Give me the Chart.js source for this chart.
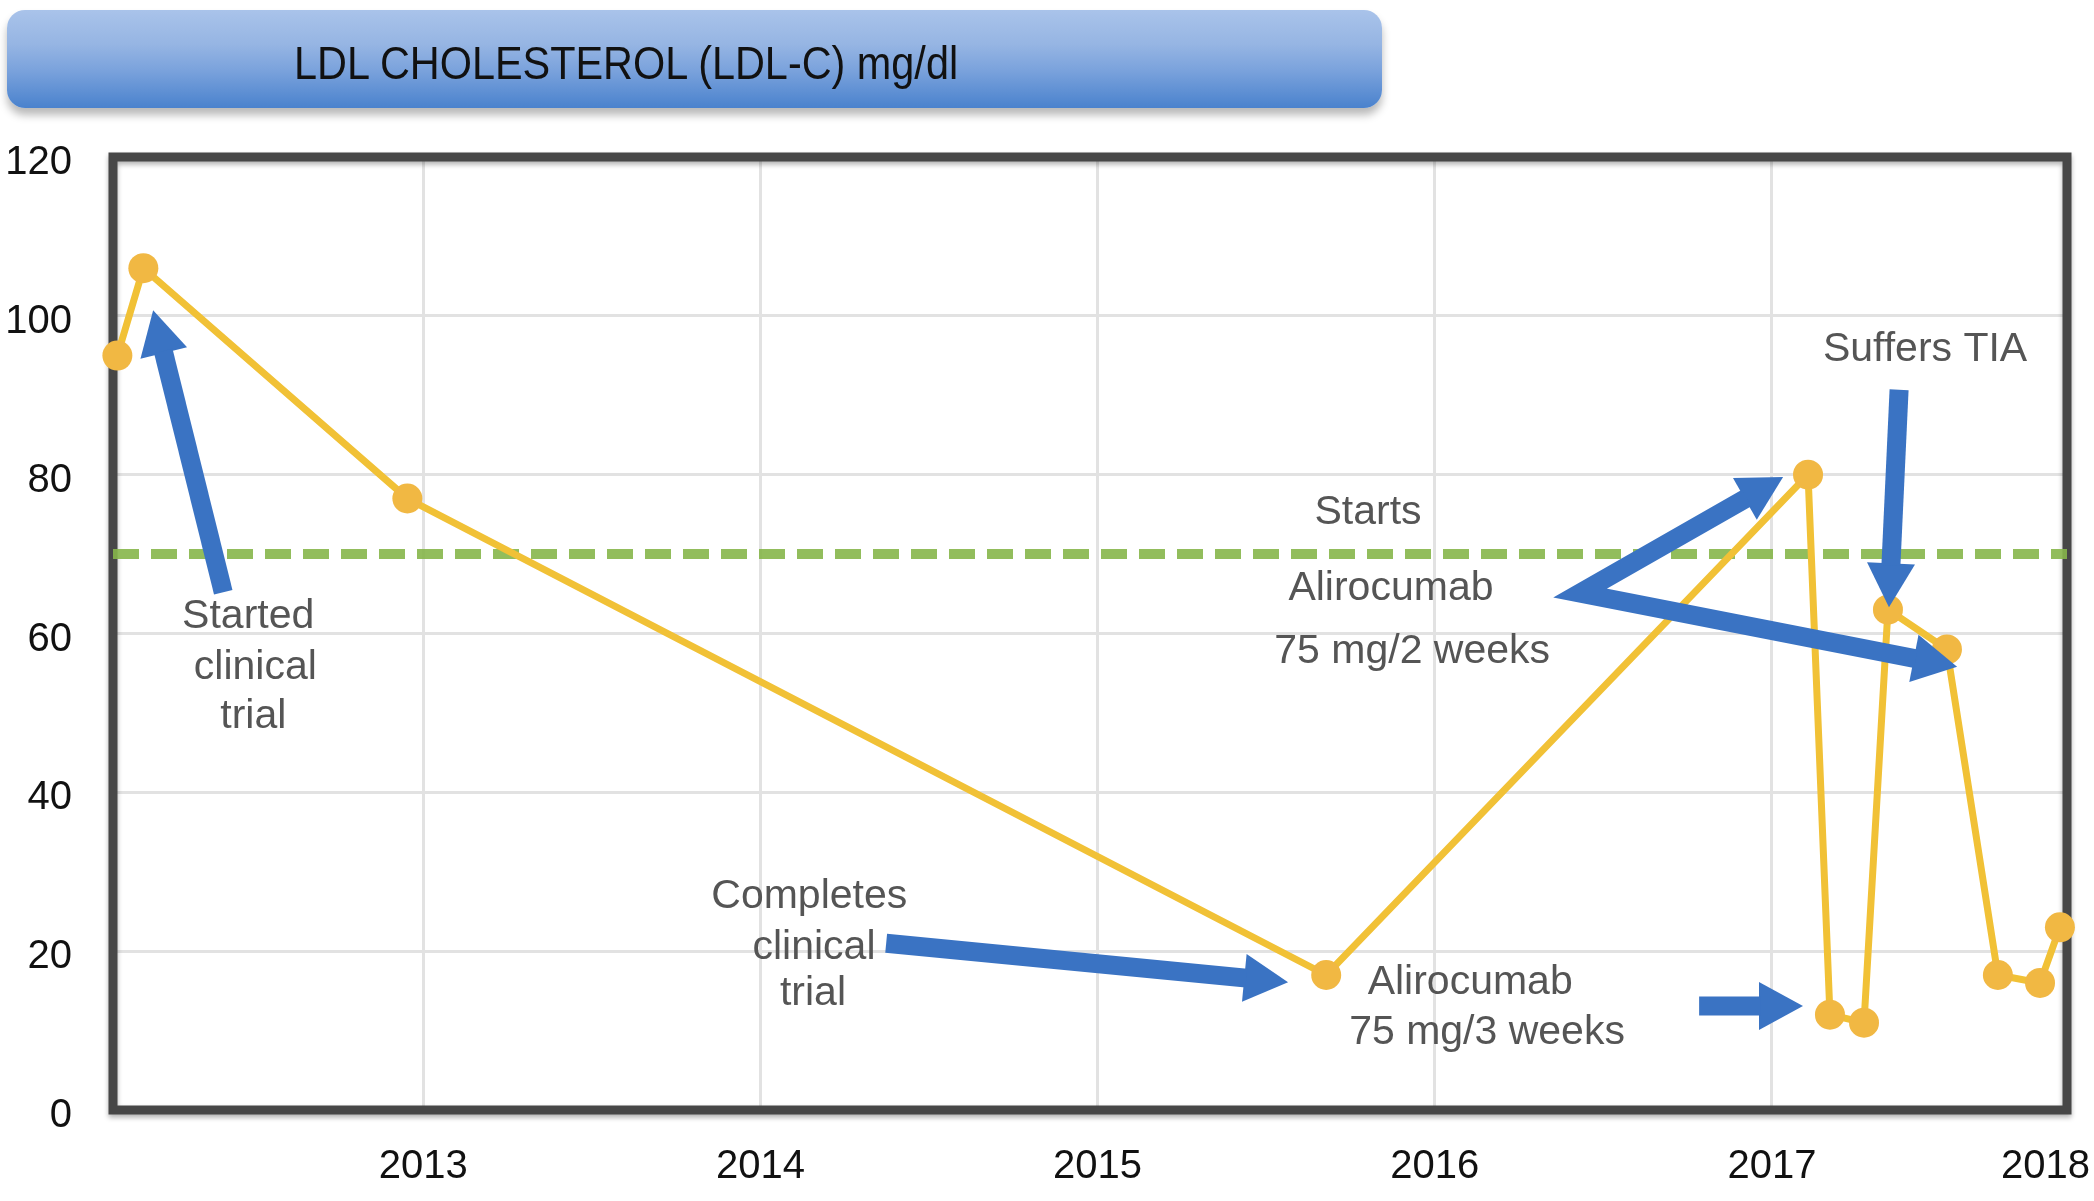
<!DOCTYPE html>
<html>
<head>
<meta charset="utf-8">
<script src="https://cdn.jsdelivr.net/npm/chart.js@4.4.1/dist/chart.umd.min.js"></script>
<style>
  html, body { margin: 0; padding: 0; background: #fff; }
  #wrap { position: relative; width: 2094px; height: 1201px; overflow: hidden; }
  #myChart { position: absolute; left: 0; top: 0; }
  #titleBar {
    position: absolute; left: 7px; top: 10px; width: 1375px; height: 98px;
    border-radius: 18px;
    background: linear-gradient(to bottom, #a9c3ea 0%, #96b5e3 35%, #7aa2dc 62%, #4a82cd 100%);
    box-shadow: 0 7px 8px rgba(0, 0, 0, 0.28);
    z-index: 2;
  }
  #titleBar span {
    position: absolute; left: 287px; top: 30px;
    font: 46px "Liberation Sans", Arial, sans-serif; line-height: 46px;
    color: #111; white-space: nowrap;
    transform: scaleX(0.9); transform-origin: left top;
  }
</style>
</head>
<body>
<div id="wrap">
  <div id="titleBar"><span>LDL CHOLESTEROL (LDL-C) mg/dl</span></div>
  <canvas id="myChart" width="2094" height="1201"></canvas>
</div>
<script>
// measurement dates (decimal year, read against the year gridlines)
const years = [2012.093, 2012.170, 2012.953, 2015.678, 2017.107, 2017.172,
               2017.273, 2017.344, 2017.519, 2017.670, 2017.795, 2017.854];
// LDL-C, mg/dl
const ldl = [95, 106, 77, 17, 80, 12, 11, 63, 58, 17, 16, 23];
const targetLdl = 70;

const xTickYears = [2013, 2014, 2015, 2016, 2017, 2018];
const xTickLabels = ["2013", "2014", "2015", "2016", "2017", "2018"];
const xMin = 2012.08;
const xMax = 2017.875;
const yMin = 0;
const yMax = 120;
const yStep = 20;

// annotation text: [text, year, mg/dl]
const notes = [
  ["Started", 2012.481, 62.1],
  ["clinical", 2012.502, 55.65],
  ["trial", 2012.496, 49.5],
  ["Completes", 2014.145, 26.8],
  ["clinical", 2014.159, 20.5],
  ["trial", 2014.156, 14.6],
  ["Starts", 2015.802, 75.2],
  ["Alirocumab", 2015.870, 65.7],
  ["75 mg/2 weeks", 2015.933, 57.7],
  ["Alirocumab", 2016.105, 16.0],
  ["75 mg/3 weeks", 2016.155, 9.7],
  ["Suffers TIA", 2017.454, 95.8],
];

// arrows: points in [year, mg/dl], head at the end (or both ends)
const arrows = [
  { pts: [[2012.407, 65.2], [2012.199, 100.7]] },
  { pts: [[2014.373, 21.0], [2015.565, 16.1]] },
  { pts: [[2017.033, 79.7], [2016.431, 65.1], [2017.549, 55.8]], both: true },
  { pts: [[2016.784, 13.1], [2017.092, 13.1]] },
  { pts: [[2017.377, 90.7], [2017.347, 63.3]] },
];

const FONT = "'Liberation Sans', Arial, sans-serif";
const ARROW_BLUE = "#3a73c3";

function drawHead(ctx, from, to) {
  const ang = Math.atan2(to[1] - from[1], to[0] - from[0]);
  const len = 44, half = 24;
  const bx = to[0] - len * Math.cos(ang);
  const by = to[1] - len * Math.sin(ang);
  ctx.beginPath();
  ctx.moveTo(to[0], to[1]);
  ctx.lineTo(bx - half * Math.sin(ang), by + half * Math.cos(ang));
  ctx.lineTo(bx + half * Math.sin(ang), by - half * Math.cos(ang));
  ctx.closePath();
  ctx.fill();
  return [bx + 2 * Math.cos(ang), by + 2 * Math.sin(ang)];
}

const decorations = {
  id: "decorations",
  beforeDatasetsDraw(chart) {
    const { ctx, chartArea: a } = chart;
    ctx.save();
    ctx.shadowColor = "rgba(0,0,0,0.3)";
    ctx.shadowBlur = 5;
    ctx.shadowOffsetY = 3;
    ctx.strokeStyle = "#474747";
    ctx.lineWidth = 9;
    ctx.strokeRect(a.left, a.top, a.right - a.left, a.bottom - a.top);
    ctx.restore();
  },
  afterDatasetsDraw(chart) {
    const { ctx } = chart;
    const xs = chart.scales.x, ys = chart.scales.y;
    const px = (p) => [xs.getPixelForValue(p[0]), ys.getPixelForValue(p[1])];

    ctx.save();
    ctx.fillStyle = ARROW_BLUE;
    ctx.strokeStyle = ARROW_BLUE;
    ctx.lineWidth = 19;
    ctx.lineJoin = "miter";
    ctx.lineCap = "butt";
    arrows.forEach((arw) => {
      const p = arw.pts.map(px);
      const n = p.length;
      const end = drawHead(ctx, p[n - 2], p[n - 1]);
      let start = p[0];
      if (arw.both) start = drawHead(ctx, p[1], p[0]);
      ctx.beginPath();
      ctx.moveTo(start[0], start[1]);
      for (let i = 1; i < n - 1; i++) ctx.lineTo(p[i][0], p[i][1]);
      ctx.lineTo(end[0], end[1]);
      ctx.stroke();
    });

    ctx.fillStyle = "#555";
    ctx.font = "41px " + FONT;
    ctx.textAlign = "center";
    ctx.textBaseline = "middle";
    notes.forEach(([t, x, y]) => {
      const [cx, cy] = px([x, y]);
      ctx.fillText(t, cx, cy);
    });
    ctx.restore();
  },
  afterDraw(chart) {
    const { ctx, chartArea: a, width } = chart;
    const xs = chart.scales.x;
    ctx.save();
    ctx.fillStyle = "#111";
    ctx.font = "40px " + FONT;
    ctx.textAlign = "center";
    ctx.textBaseline = "middle";
    xTickYears.forEach((v, i) => {
      const w = ctx.measureText(xTickLabels[i]).width;
      let cx = xs.getPixelForValue(v);
      cx = Math.min(Math.max(cx, w / 2 + 2), width - w / 2 - 4);
      ctx.fillText(xTickLabels[i], cx, a.bottom + 57);
    });
    ctx.restore();
  },
};

const ctx = document.getElementById("myChart").getContext("2d");
new Chart(ctx, {
  type: "line",
  data: {
    datasets: [
      {
        label: "LDL-C",
        data: years.map((x, i) => ({ x: x, y: ldl[i] })),
        borderColor: "#f1c136",
        borderWidth: 7,
        pointRadius: 15,
        pointHoverRadius: 15,
        pointBackgroundColor: "#f1b843",
        pointBorderWidth: 0,
        tension: 0,
        clip: false,
        order: 1,
      },
      {
        label: "Target",
        data: [{ x: xMin, y: targetLdl }, { x: xMax, y: targetLdl }],
        borderColor: "rgba(134, 182, 74, 0.9)",
        borderWidth: 10,
        borderDash: [26, 12],
        pointRadius: 0,
        order: 2,
      },
    ],
  },
  options: {
    responsive: false,
    animation: false,
    devicePixelRatio: 1,
    layout: { padding: { left: 0, top: 157, right: 27, bottom: 91 } },
    plugins: {
      legend: { display: false },
      tooltip: { enabled: false },
    },
    scales: {
      x: {
        type: "linear",
        min: xMin,
        max: xMax,
        afterBuildTicks(s) {
          s.ticks = xTickYears.filter((v) => v <= xMax).map((v) => ({ value: v }));
        },
        ticks: { display: false },
        grid: { color: "#e2e2e2", lineWidth: 3, drawTicks: false },
        border: { display: false },
        afterFit(s) { s.height = 0; },
      },
      y: {
        min: yMin,
        max: yMax,
        ticks: {
          stepSize: yStep,
          padding: 41,
          labelOffset: 6,
          color: "#111",
          font: { size: 40, family: FONT },
        },
        grid: { color: "#e2e2e2", lineWidth: 3, drawTicks: false },
        border: { display: false },
        afterFit(s) { s.width = 113; },
      },
    },
  },
  plugins: [decorations],
});
</script>
</body>
</html>
